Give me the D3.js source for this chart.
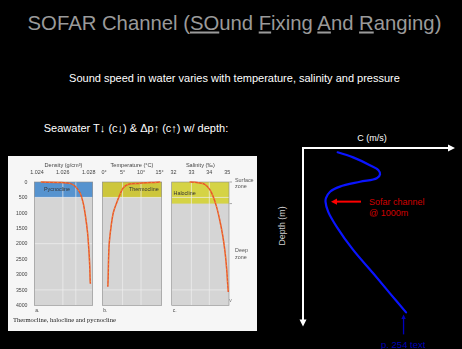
<!DOCTYPE html>
<html>
<head>
<meta charset="utf-8">
<script src="https://cdn.jsdelivr.net/npm/d3@7"></script>
<style>
  html, body { margin: 0; padding: 0; background: #000; }
  svg { display: block; }
</style>
</head>
<body>
<svg id="slide" width="462" height="349"></svg>
<script>
// ---- Sound-speed profile (schematic) ----
const profileDepth = [80, 175, 320, 410, 490, 565, 630, 720, 815, 935, 1000, 1190, 1470, 1900, 2340, 2710, 3065];
const profileSpeed = [1482.8, 1493.0, 1504.0, 1509.5, 1510.7, 1508.5, 1497.5, 1484.3, 1477.8, 1475.1, 1474.8, 1476.6, 1482.2, 1493.0, 1506.3, 1517.2, 1527.8];
const sofarDepth = 1000;

// ---- Ocean profiles: density, temperature, salinity vs depth ----
const densityDepth = [0, 20, 45, 130, 340, 670, 1100, 1630, 2170, 2710, 3140, 3300];
const densityValue = [1.0243, 1.0259, 1.02655, 1.02693, 1.02731, 1.02756, 1.02774, 1.0279, 1.0280, 1.02807, 1.0281, 1.02812];
const tempDepth = [0, 20, 45, 75, 185, 400, 670, 990, 1420, 1960, 2500, 3030, 3400];
const tempValue = [15.2, 12.6, 9.3, 6.6, 5.2, 4.3, 3.4, 2.5, 1.9, 1.4, 1.2, 1.1, 1.0];
const salDepth = [0, 25, 75, 240, 450, 775, 1200, 1740, 2280, 2820, 3250, 3570];
const salValue = [32.9, 33.4, 33.75, 34.02, 34.2, 34.39, 34.57, 34.75, 34.88, 34.97, 35.02, 35.06];

const depthTicks = [0, 500, 1000, 1500, 2000, 2500, 3000, 3500, 4000];
const densityTicks = [1.024, 1.026, 1.028];
const tempTicks = [0, 5, 10, 15];
const salTicks = [32, 33, 34, 35];
const tempTickLabels = ["0°", "5°", "10°", "15°"];

const clineNames = ["Pycnocline", "Thermocline", "Halocline"];
const clineBottom = [500, 500, 700];

const svg = d3.select("#slide");
const sans = "'Liberation Sans', Arial, sans-serif";

svg.append("rect").attr("width", 462).attr("height", 349).attr("fill", "#000");

// ---- Headings ----
const titleParts = [
  ["SOFAR Channel (", false], ["SO", true], ["und ", false], ["F", true],
  ["ixing ", false], ["A", true], ["nd ", false], ["R", true], ["anging)", false]
];
const title = svg.append("text")
  .attr("x", 234.5).attr("y", 29.5)
  .attr("text-anchor", "middle")
  .attr("font-family", sans).attr("font-size", 20.3)
  .attr("fill", "#9a9a9a");
title.selectAll("tspan").data(titleParts).join("tspan")
  .text(d => d[0])
  .style("text-decoration", d => d[1] ? "underline" : "none");

svg.append("text")
  .attr("x", 234.5).attr("y", 81.5)
  .attr("text-anchor", "middle")
  .attr("font-family", sans).attr("font-size", 11)
  .attr("fill", "#fff")
  .text("Sound speed in water varies with temperature, salinity and pressure");

svg.append("text")
  .attr("x", 136).attr("y", 131.5)
  .attr("text-anchor", "middle")
  .attr("font-family", sans).attr("font-size", 11)
  .attr("fill", "#fff")
  .text("Seawater T\u2193 (c\u2193) & \u0394p\u2191 (c\u2191) w/ depth:");

// ---- Left figure: three depth profiles ----
const defs = svg.append("defs");
defs.append("filter").attr("id", "soft")
  .append("feGaussianBlur").attr("stdDeviation", 0.35);

const fig = svg.append("g").attr("filter", "url(#soft)");
fig.append("rect").attr("x", 8).attr("y", 156).attr("width", 249).attr("height", 175).attr("fill", "#f6f6f6");

const yDepth = d3.scaleLinear().domain([0, 4000]).range([182, 305.3]);

const panels = [
  { title: "Density (g/cm\u00B3)", x: d3.scaleLinear().domain([1.0238, 1.0283]).range([34.3, 92.7]),
    ticks: densityTicks, labels: densityTicks.map(d3.format(".3f")), grid: [1.026, 1.027],
    depth: densityDepth, value: densityValue, band: "#5793cf", letter: "a." },
  { title: "Temperature (\u00B0C)", x: d3.scaleLinear().domain([-0.5, 15.6]).range([102.3, 161.7]),
    ticks: tempTicks, labels: tempTickLabels, grid: [5, 10],
    depth: tempDepth, value: tempValue, band: "#cdc63a", letter: "b." },
  { title: "Salinity (\u2030)", x: d3.scaleLinear().domain([31.9, 35.1]).range([171.7, 229]),
    ticks: salTicks, labels: salTicks.map(String), grid: [33, 34],
    depth: salDepth, value: salValue, band: "#d5d345", letter: "c." }
];

panels.forEach((p, i) => {
  const [x0, x1] = p.x.range();
  const g = fig.append("g");
  g.append("rect").attr("x", x0).attr("y", yDepth(0)).attr("width", x1 - x0)
    .attr("height", yDepth(4000) - yDepth(0)).attr("fill", "#d5d5d5");
  g.append("rect").attr("x", x0).attr("y", yDepth(0)).attr("width", x1 - x0)
    .attr("height", yDepth(clineBottom[i]) - yDepth(0)).attr("fill", p.band);
  g.selectAll(".vg").data(p.grid).join("line")
    .attr("x1", d => p.x(d)).attr("x2", d => p.x(d))
    .attr("y1", yDepth(0)).attr("y2", yDepth(4000))
    .attr("stroke", "#efefef").attr("stroke-width", 0.7);
  g.selectAll(".hg").data([500, 2000, 3500]).join("line")
    .attr("x1", x0).attr("x2", x1)
    .attr("y1", d => yDepth(d)).attr("y2", d => yDepth(d))
    .attr("stroke", "#efefef").attr("stroke-width", 0.7);
  g.append("rect").attr("x", x0).attr("y", yDepth(0)).attr("width", x1 - x0)
    .attr("height", yDepth(4000) - yDepth(0)).attr("fill", "none")
    .attr("stroke", "#8a8a8a").attr("stroke-width", 0.6);

  g.append("text").attr("x", p.x(p.x.domain()[0]) + (x1 - x0) / 2).attr("y", 166.5)
    .attr("text-anchor", "middle").attr("font-family", sans).attr("font-size", 5.6)
    .attr("fill", "#444").text(p.title);
  g.selectAll(".tl").data(p.ticks).join("text")
    .attr("x", (d, k) => p.x(d)).attr("y", 173.5)
    .attr("text-anchor", "middle").attr("font-family", sans).attr("font-size", 5.4)
    .attr("fill", "#444").text((d, k) => p.labels[k]);

  const nameX = [44, 129, 173.5][i];
  const nameY = [191, 191, 194.5][i];
  g.append("text").attr("x", nameX).attr("y", nameY)
    .attr("font-family", sans).attr("font-size", 5.4).attr("fill", "#333")
    .text(clineNames[i]);

  const line = d3.line().x(d => p.x(d[1])).y(d => yDepth(d[0])).curve(d3.curveCatmullRom);
  const pts = p.depth.map((d, k) => [d, p.value[k]]);
  g.append("path").attr("d", line(pts)).attr("fill", "none")
    .attr("stroke", "#e9552a").attr("stroke-width", 1.5);
  g.append("path").attr("d", line(pts)).attr("fill", "none")
    .attr("stroke", "#f6b23a").attr("stroke-width", 0.6).attr("stroke-dasharray", "1.5,2.5");

  g.append("text").attr("x", x0 + 1).attr("y", 311.5)
    .attr("font-family", sans).attr("font-size", 5).attr("fill", "#444").text(p.letter);
});

fig.selectAll(".dt").data(depthTicks).join("text")
  .attr("x", 27.5).attr("y", d => yDepth(d) + 1.8)
  .attr("text-anchor", "end").attr("font-family", sans).attr("font-size", 5.2)
  .attr("fill", "#444").text(d => d);

// zone markers on the right edge
const zoneText = [["Surface", 181.5], ["zone", 187.5], ["Deep", 252], ["zone", 258.5]];
fig.selectAll(".zt").data(zoneText).join("text")
  .attr("x", 235).attr("y", d => d[1])
  .attr("font-family", sans).attr("font-size", 5.4).attr("fill", "#555").text(d => d[0]);
fig.selectAll(".zm").data([0, 700]).join("line")
  .attr("x1", 229.5).attr("x2", 232).attr("y1", d => yDepth(d)).attr("y2", d => yDepth(d))
  .attr("stroke", "#777").attr("stroke-width", 0.6);
fig.append("text").attr("x", 230.5).attr("y", yDepth(3900)).attr("text-anchor", "middle")
  .attr("font-family", sans).attr("font-size", 5).attr("fill", "#777").text("v");

fig.append("text").attr("x", 13).attr("y", 321.5)
  .attr("font-family", "'Liberation Serif', 'Times New Roman', serif").attr("font-size", 6.6)
  .attr("fill", "#222").text("Thermocline, halocline and pycnocline");

// ---- Right chart: sound speed vs depth ----
const xSpeed = d3.scaleLinear().domain([1460, 1560]).range([303, 455]);
const yProf = d3.scaleLinear().domain([0, 3300]).range([148, 325]);

const ax = svg.append("g").attr("stroke", "#fff").attr("stroke-width", 2).attr("fill", "#fff");
ax.append("line").attr("x1", xSpeed(1460)).attr("y1", yProf(0))
  .attr("x2", xSpeed(1560) - 5).attr("y2", yProf(0));
ax.append("line").attr("x1", xSpeed(1460)).attr("y1", yProf(0) - 1)
  .attr("x2", xSpeed(1460)).attr("y2", yProf(3300) - 4);
ax.append("path").attr("stroke", "none")
  .attr("d", `M${xSpeed(1560)},${yProf(0)} l-7,-3.5 l0,7 z`);
ax.append("path").attr("stroke", "none")
  .attr("d", `M${xSpeed(1460)},${yProf(3300) + 1.5} l-3.5,-7 l7,0 z`);

svg.append("text").attr("x", 372).attr("y", 140.5).attr("text-anchor", "middle")
  .attr("font-family", sans).attr("font-size", 9).attr("fill", "#fff").text("C (m/s)");
svg.append("text").attr("transform", "translate(284.5,226) rotate(-90)")
  .attr("text-anchor", "middle").attr("font-family", sans).attr("font-size", 8.8)
  .attr("fill", "#d0d0d0").text("Depth (m)");

const profLine = d3.line().x(d => xSpeed(d[1])).y(d => yProf(d[0])).curve(d3.curveCatmullRom);
svg.append("path")
  .attr("d", profLine(profileDepth.map((d, k) => [d, profileSpeed[k]])))
  .attr("fill", "none").attr("stroke", "#0a14ff").attr("stroke-width", 2.2)
  .attr("stroke-linecap", "round");

// arrow marking the speed minimum
const minSpeed = d3.min(profileSpeed);
const tipX = xSpeed(minSpeed) + 5.5, tipY = yProf(sofarDepth);
svg.append("line").attr("x1", tipX + 5).attr("y1", tipY).attr("x2", tipX + 30).attr("y2", tipY)
  .attr("stroke", "#ff0000").attr("stroke-width", 2);
svg.append("path").attr("d", `M${tipX},${tipY} l6,-3.2 l0,6.4 z`).attr("fill", "#ff0000");
svg.append("text").attr("x", 369).attr("y", 205).attr("font-family", sans).attr("font-size", 9)
  .attr("fill", "#d00000").text("Sofar channel");
svg.append("text").attr("x", 369).attr("y", 216.3).attr("font-family", sans).attr("font-size", 9)
  .attr("fill", "#d00000").text("@ " + sofarDepth + "m");

// source reference arrow
const endX = xSpeed(profileSpeed[profileSpeed.length - 1]) - 2.5;
const endY = yProf(profileDepth[profileDepth.length - 1]) + 2;
svg.append("line").attr("x1", endX).attr("y1", endY + 3).attr("x2", endX).attr("y2", endY + 20)
  .attr("stroke", "#0000c0").attr("stroke-width", 1.3);
svg.append("path").attr("d", `M${endX},${endY} l-2.2,4.5 l4.4,0 z`).attr("fill", "#0000c0");
svg.append("text").attr("x", 381).attr("y", 347.5).attr("font-family", sans).attr("font-size", 9.5)
  .attr("fill", "#0000b8").text("p. 254 text");
</script>
</body>
</html>
